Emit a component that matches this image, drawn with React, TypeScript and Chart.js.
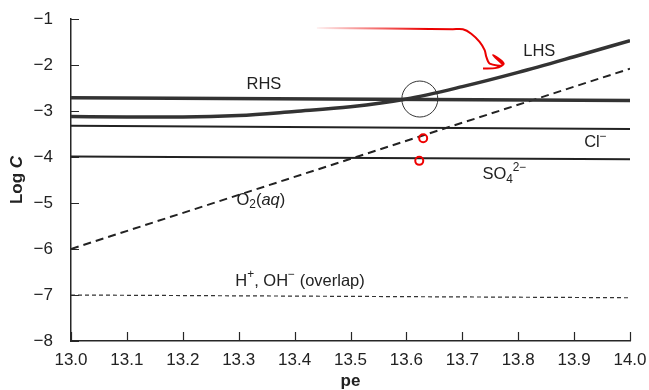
import React, { useEffect, useRef } from "react";
import { Chart, registerables } from "chart.js";

Chart.register(...registerables);

// ---- data ----
const peTicks = [13.0, 13.1, 13.2, 13.3, 13.4, 13.5, 13.6, 13.7, 13.8, 13.9, 14.0];
const lhsLogC = [-3.12, -3.13, -3.13, -3.1, -3.01, -2.91, -2.74, -2.47, -2.16, -1.82, -1.47];
const lineEndsPe = [13.0, 14.0];
const rhsLogC = [-2.71, -2.77];
const clLogC = [-3.32, -3.39];
const so4LogC = [-3.99, -4.05];
const o2LogC = [-6.0, -2.08];
const hohLogC = [-7.0, -7.06];
const circlePe = [13.624];
const circleLogC = [-2.74];
const redPe = [13.44, 13.683, 13.701, 13.716, 13.731, 13.74, 13.743, 13.749, 13.772, 13.755, 13.774, 13.761, 13.737];
const redLogC = [-1.195, -1.223, -1.223, -1.319, -1.498, -1.678, -1.824, -1.969, -2.003, -1.787, -1.969, -2.062, -2.077];
const redMarkPe = [13.63, 13.623];
const redMarkLogC = [-3.594, -4.084];
const yMin = -8;
const yMax = -1;

type Seg = { t: string; m?: "sub" | "sup"; i?: boolean };
const labels: { pe: number; logC: number; segs: Seg[] }[] = [
  { pe: 13.314, logC: -2.43, segs: [{ t: "RHS" }] },
  { pe: 13.809, logC: -1.715, segs: [{ t: "LHS" }] },
  { pe: 13.918, logC: -3.69, segs: [{ t: "Cl" }, { t: "\u2212", m: "sup" }] },
  { pe: 13.736, logC: -4.38, segs: [{ t: "SO" }, { t: "4", m: "sub" }, { t: "2\u2212", m: "sup" }] },
  { pe: 13.296, logC: -4.94, segs: [{ t: "O" }, { t: "2", m: "sub" }, { t: "(" }, { t: "aq", i: true }, { t: ")" }] },
  { pe: 13.294, logC: -6.7, segs: [{ t: "H" }, { t: "+", m: "sup" }, { t: ", OH" }, { t: "\u2212", m: "sup" }, { t: " (overlap)" }] },
];

const FONT = "'Liberation Sans', Arial, Helvetica, sans-serif";
const INK = "#262626";

const pts = (xs: number[], ys: number[]) => xs.map((x, i) => ({ x, y: ys[i] }));

const drawSegs = (c: CanvasRenderingContext2D, x: number, y: number, segs: Seg[], size: number) => {
  c.textBaseline = "middle";
  c.textAlign = "left";
  let cx = x;
  for (const s of segs) {
    const small = s.m ? size * 0.72 : size;
    c.font = `${s.i ? "italic " : ""}${small}px ${FONT}`;
    const dy = s.m === "sub" ? size * 0.3 : s.m === "sup" ? -size * 0.38 : 0;
    c.fillText(s.t, cx, y + dy);
    cx += c.measureText(s.t).width;
  }
};

const overlayPlugin = {
  id: "overlay",
  afterDraw(chart: any) {
    const c: CanvasRenderingContext2D = chart.ctx;
    const { x, y } = chart.scales;
    const area = chart.chartArea;
    c.save();
    // inward tick marks
    c.strokeStyle = INK;
    c.lineWidth = 1.2;
    c.beginPath();
    y.ticks.forEach((t: any) => {
      const py = Math.round(y.getPixelForValue(t.value)) + 0.5;
      c.moveTo(area.left, py);
      c.lineTo(area.left + 8, py);
    });
    x.ticks.forEach((t: any) => {
      const px = Math.round(x.getPixelForValue(t.value)) + 0.5;
      c.moveTo(px, area.bottom);
      c.lineTo(px, area.bottom - 9);
    });
    c.stroke();
    // curve labels
    c.fillStyle = "#222";
    labels.forEach((l) => {
      drawSegs(c, x.getPixelForValue(l.pe), y.getPixelForValue(l.logC), l.segs, 16.5);
    });
    // axis titles
    c.font = `bold 17px ${FONT}`;
    c.textAlign = "center";
    c.textBaseline = "middle";
    c.fillText("pe", (area.left + area.right) / 2, area.bottom + 40);
    c.translate(17, (area.top + area.bottom) / 2);
    c.rotate(-Math.PI / 2);
    c.font = `bold 17px ${FONT}`;
    const w1 = c.measureText("Log ").width;
    c.font = `italic bold 17px ${FONT}`;
    const w2 = c.measureText("C").width;
    const sx = -(w1 + w2) / 2;
    c.textAlign = "left";
    c.font = `bold 17px ${FONT}`;
    c.fillText("Log ", sx, 0);
    c.font = `italic bold 17px ${FONT}`;
    c.fillText("C", sx + w1, 0);
    c.restore();
  },
};

export default function App() {
  const ref = useRef<HTMLCanvasElement>(null);
  useEffect(() => {
    if (!ref.current) return;
    Chart.defaults.font.family = FONT;
    const chart = new Chart(ref.current, {
      type: "line",
      data: {
        datasets: [
          {
            data: pts(redPe, redLogC),
            borderColor: (ctx: any) => {
              const ch = ctx.chart;
              if (!ch.chartArea || !ch.scales.x) return "#e00";
              const x0 = ch.scales.x.getPixelForValue(redPe[0]);
              const g = ch.ctx.createLinearGradient(x0, 0, x0 + 110, 0);
              g.addColorStop(0, "rgba(235,0,0,0.05)");
              g.addColorStop(1, "rgba(235,0,0,1)");
              return g;
            },
            borderWidth: 2,
            tension: 0.3,
            pointRadius: 0,
          },
          {
            data: pts(redMarkPe, redMarkLogC),
            showLine: false,
            pointRadius: 4,
            pointBorderWidth: 2,
            pointBorderColor: "#e00",
            pointBackgroundColor: "rgba(0,0,0,0)",
          },
          {
            data: pts(circlePe, circleLogC),
            showLine: false,
            pointRadius: 18,
            pointBorderWidth: 1,
            pointBorderColor: "#333",
            pointBackgroundColor: "rgba(0,0,0,0)",
          },
          {
            data: pts(peTicks, lhsLogC),
            borderColor: "#333",
            borderWidth: 3.5,
            cubicInterpolationMode: "monotone",
            pointRadius: 0,
          },
          { data: pts(lineEndsPe, rhsLogC), borderColor: "#333", borderWidth: 3.5, pointRadius: 0 },
          { data: pts(lineEndsPe, clLogC), borderColor: "#222", borderWidth: 2, pointRadius: 0 },
          { data: pts(lineEndsPe, so4LogC), borderColor: "#222", borderWidth: 2, pointRadius: 0 },
          {
            data: pts(lineEndsPe, o2LogC),
            borderColor: "#222",
            borderWidth: 2,
            borderDash: [8, 5],
            pointRadius: 0,
          },
          {
            data: pts(lineEndsPe, hohLogC),
            borderColor: "#333",
            borderWidth: 1.2,
            borderDash: [4, 3],
            pointRadius: 0,
          },
        ],
      } as any,
      options: {
        responsive: false,
        animation: false,
        devicePixelRatio: 1,
        layout: { padding: { top: 17, right: 17, left: 0, bottom: 0 } },
        plugins: { legend: { display: false }, tooltip: { enabled: false } },
        elements: { point: { hitRadius: 0 } },
        scales: {
          x: {
            type: "linear",
            min: peTicks[0],
            max: peTicks[peTicks.length - 1],
            grid: { display: false },
            border: { display: true, color: INK, width: 1.5 },
            ticks: {
              stepSize: 0.1,
              autoSkip: false,
              maxRotation: 0,
              padding: 1,
              color: "#222",
              font: { size: 17 },
              callback: (v: any) => Number(v).toFixed(1),
            },
            afterFit: (s: any) => {
              s.height = 49;
              s.paddingLeft = 0;
              s.paddingRight = 0;
            },
          },
          y: {
            type: "linear",
            min: yMin,
            max: yMax,
            grid: { display: false },
            border: { display: true, color: INK, width: 1.5 },
            ticks: {
              stepSize: 1,
              autoSkip: false,
              padding: 10,
              color: "#222",
              font: { size: 17 },
              callback: (v: any) => String(v).replace("-", "\u2212"),
            },
            afterFit: (s: any) => {
              s.width = 71;
              s.paddingTop = 0;
              s.paddingBottom = 0;
            },
          },
        },
      } as any,
      plugins: [overlayPlugin],
    });
    return () => chart.destroy();
  }, []);
  return (
    <div style={{ position: "absolute", left: 0, top: 0, width: 649, height: 390, background: "#fff" }}>
      <canvas ref={ref} width={649} height={390} style={{ display: "block" }} />
    </div>
  );
}
